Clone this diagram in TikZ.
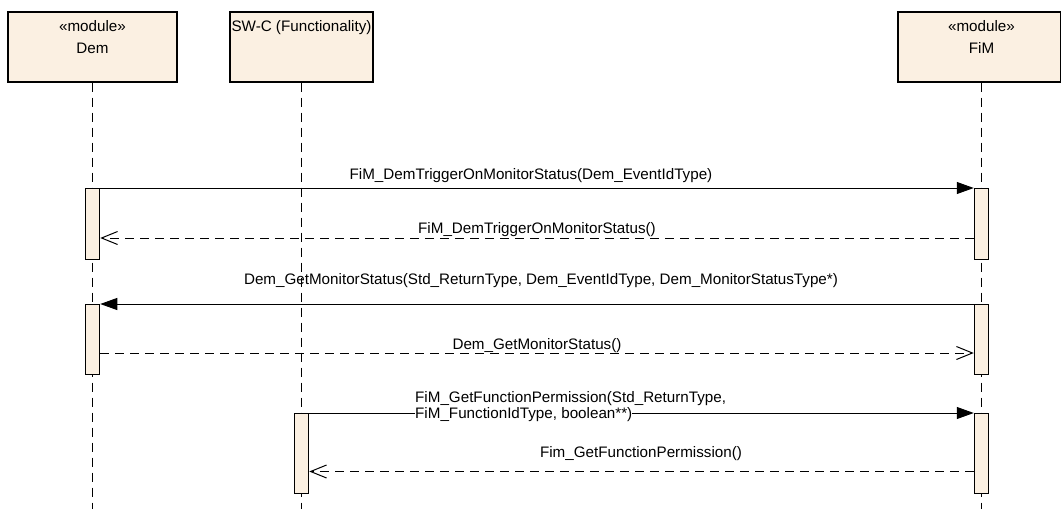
\documentclass[tikz,border=0pt]{standalone}
\usepackage{fontspec}
\setmainfont{Liberation Sans}
\usetikzlibrary{positioning,arrows.meta}
\definecolor{ModFill}{RGB}{251,240,226}

\begin{document}
\begin{tikzpicture}[x=1pt,y=-1pt,
font=\fontsize{15.2}{22}\selectfont,
modbox/.style={rectangle,draw=black,line width=1.2pt,fill=ModFill,minimum height=70pt,inner sep=0pt},
hdrtext/.style={align=center,inner sep=0pt},
actbar/.style={rectangle,draw=black,line width=1pt,fill=ModFill,minimum width=14.5pt,inner sep=0pt,anchor=north},
lifeline/.style={draw=black,line width=1pt,dash pattern=on 9pt off 6pt},
call/.style={-{Triangle[length=17pt,width=12pt]},line width=1pt},
reply/.style={-{Straight Barb[length=16pt,width=13pt]},line width=1pt,dash pattern=on 9pt off 6pt},
msg/.style={anchor=base,inner sep=0pt}
]
\useasboundingbox (0,0) rectangle (1061,509);

% message rows
\coordinate (m1) at (0,188); \coordinate (r1) at (0,238);
\coordinate (m2) at (0,304); \coordinate (r2) at (0,353);
\coordinate (m3) at (0,413); \coordinate (r3) at (0,471.5);
\coordinate (bot) at (0,509);

% lifeline heads
\node[modbox,minimum width=169pt] (dem) at (92.5,47) {};
\node[modbox,minimum width=143pt] (swc) at (301.5,47) {};
\node[modbox,minimum width=162.5pt] (fim) at (979.25,47) {};
\coordinate (fimL) at ([xshift=2.25pt]fim.south);
\node[hdrtext,below=9pt of dem.north] (demtxt) {«module»\\Dem};
\node[hdrtext,below=9pt of swc.north] (swctxt) {SW-C (Functionality)};
\node[hdrtext,below=9pt of fim.north,xshift=2.25pt] (fimtxt) {«module»\\FiM};

\draw[lifeline] (dem.south) -- (dem.south |- bot);
\draw[lifeline] (swc.south) -- (swc.south |- bot);
\draw[lifeline] (fimL) -- (fimL |- bot);

% activations
\node[actbar,minimum height=71pt] (demA) at (dem.south |- m1) {};
\node[actbar,minimum height=70pt] (demB) at (dem.south |- m2) {};
\node[actbar,minimum height=80pt] (swcA) at (swc.south |- m3) {};
\node[actbar,minimum height=71pt] (fimA) at (fimL |- m1) {};
\node[actbar,minimum height=70pt] (fimB) at (fimL |- m2) {};
\node[actbar,minimum height=80pt] (fimC) at (fimL |- m3) {};

% messages
\draw[call] (demA.north east) -- (fimA.north west);
\node[msg] (lbl1) at (531,179) {FiM\_DemTriggerOnMonitorStatus(Dem\_EventIdType)};
\draw[reply] (fimA.west |- r1) -- (demA.east |- r1);
\node[msg] (lbl2) at (537,233) {FiM\_DemTriggerOnMonitorStatus()};

\draw[call] (fimB.north west) -- (demB.north east);
\node[msg] (lbl3) at (541,284) {Dem\_GetMonitorStatus(Std\_ReturnType, Dem\_EventIdType, Dem\_MonitorStatusType*)};
\draw[reply] (demB.east |- r2) -- (fimB.west |- r2);
\node[msg] (lbl4) at (537,349) {Dem\_GetMonitorStatus()};

\draw[call] (swcA.north east) -- (fimC.north west);
\node[msg,anchor=base west] (lbl5a) at (415,402) {FiM\_GetFunctionPermission(Std\_ReturnType,};
\node[msg,anchor=base west,fill=white] (lbl5b) at (415,418) {FiM\_FunctionIdType, boolean**)};
\draw[reply] (fimC.west |- r3) -- (swcA.east |- r3);
\node[msg] (lbl6) at (641,457) {Fim\_GetFunctionPermission()};
\end{tikzpicture}
\end{document}
